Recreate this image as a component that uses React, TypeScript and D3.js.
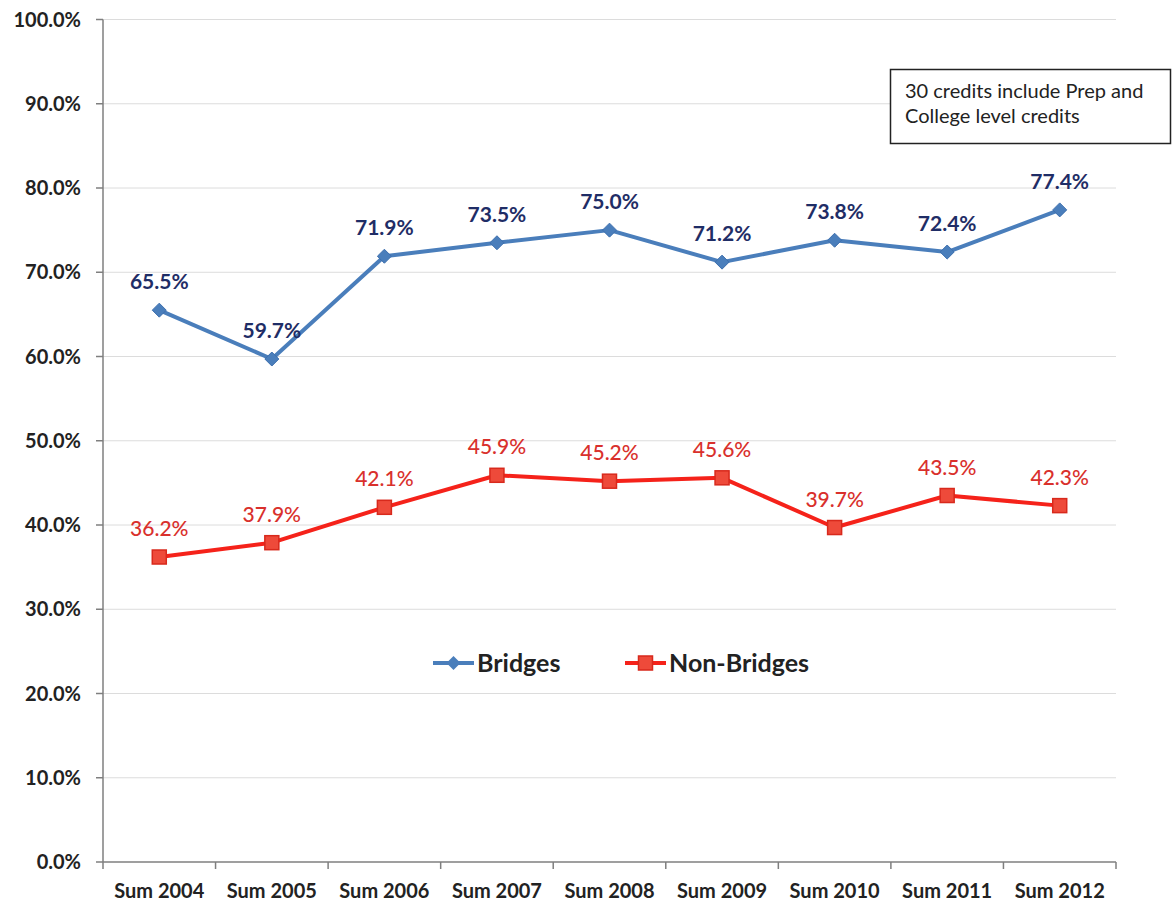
import React from "react";
import * as d3 from "d3";

const categories = ["Sum 2004", "Sum 2005", "Sum 2006", "Sum 2007", "Sum 2008", "Sum 2009", "Sum 2010", "Sum 2011", "Sum 2012"];
const bridges = [65.5, 59.7, 71.9, 73.5, 75.0, 71.2, 73.8, 72.4, 77.4];
const nonBridges = [36.2, 37.9, 42.1, 45.9, 45.2, 45.6, 39.7, 43.5, 42.3];
const yTicks = [0, 10, 20, 30, 40, 50, 60, 70, 80, 90, 100];
const noteLines = ["30 credits include Prep and", "College level credits"];

const W = 1172;
const H = 907;
const FONT = "Lato, 'Open Sans', sans-serif";

export default function App() {
  const x = d3.scaleBand<string>().domain(categories).range([103, 1116]);
  const y = d3.scaleLinear().domain([0, 100]).range([862, 19.5]);
  const cx = (c: string) => (x(c) as number) + x.bandwidth() / 2;
  const line = d3
    .line<number>()
    .x((_, i) => cx(categories[i]))
    .y((d) => y(d));
  const fmt = (v: number) => v.toFixed(1) + "%";
  const blue = "#4a7ebb";
  const red = "#f5221a";
  const diamond = (px: number, py: number, r: number) =>
    `M${px},${py - r}L${px + r},${py}L${px},${py + r}L${px - r},${py}Z`;

  const bounds = categories.map((c) => x(c) as number).concat([x.range()[1]]);

  return (
    <svg width={W} height={H} style={{ position: "absolute", left: 0, top: 0, background: "#fff" }}>
      <rect width={W} height={H} fill="#fff" />
      {/* gridlines */}
      {yTicks.slice(1).map((t) => (
        <line key={"g" + t} x1={103} x2={1116} y1={y(t)} y2={y(t)} stroke="#dcdcdc" strokeWidth={1} />
      ))}
      {/* y axis */}
      <line x1={103} x2={103} y1={y(100)} y2={y(0)} stroke="#7f7f7f" strokeWidth={1.5} />
      {yTicks.map((t) => (
        <g key={"yt" + t}>
          <line x1={96} x2={103} y1={y(t)} y2={y(t)} stroke="#7f7f7f" strokeWidth={1.5} />
          <text x={81} y={y(t) + 7} textAnchor="end" fontFamily={FONT} fontWeight={700} fontSize={20} fill="#222">
            {fmt(t)}
          </text>
        </g>
      ))}
      {/* x axis */}
      <line x1={103} x2={1116} y1={y(0)} y2={y(0)} stroke="#7f7f7f" strokeWidth={1.5} />
      {bounds.map((b, i) => (
        <line key={"xt" + i} x1={b} x2={b} y1={y(0)} y2={y(0) + 7} stroke="#7f7f7f" strokeWidth={1.5} />
      ))}
      {categories.map((c) => (
        <text key={"xl" + c} x={cx(c)} y={898} textAnchor="middle" fontFamily={FONT} fontWeight={700} fontSize={20} fill="#222">
          {c}
        </text>
      ))}
      {/* Bridges */}
      <path d={line(bridges) || ""} fill="none" stroke={blue} strokeWidth={4} strokeLinejoin="round" />
      {bridges.map((v, i) => (
        <path key={"bm" + i} d={diamond(cx(categories[i]), y(v), 7)} fill={blue} stroke="#3d6fae" strokeWidth={1} />
      ))}
      {bridges.map((v, i) => (
        <text key={"bl" + i} x={cx(categories[i])} y={y(v) - 21} textAnchor="middle" fontFamily={FONT} fontWeight={700} fontSize={21} fill="#1f2d66">
          {fmt(v)}
        </text>
      ))}
      {/* Non-Bridges */}
      <path d={line(nonBridges) || ""} fill="none" stroke={red} strokeWidth={4} strokeLinejoin="round" />
      {nonBridges.map((v, i) => (
        <rect key={"nm" + i} x={cx(categories[i]) - 7} y={y(v) - 7} width={14} height={14} fill="#ee4a3a" stroke="#d8291c" strokeWidth={1.5} />
      ))}
      {nonBridges.map((v, i) => (
        <text key={"nl" + i} x={cx(categories[i])} y={y(v) - 21} textAnchor="middle" fontFamily={FONT} fontWeight={500} fontSize={21} fill="#d9302c">
          {fmt(v)}
        </text>
      ))}
      {/* legend */}
      <g>
        <line x1={433} x2={474} y1={663} y2={663} stroke={blue} strokeWidth={4} />
        <path d={diamond(453.5, 663, 7)} fill={blue} />
        <text x={477} y={672} fontFamily={FONT} fontWeight={700} fontSize={25} fill="#222">
          Bridges
        </text>
        <line x1={625} x2={666} y1={663} y2={663} stroke={red} strokeWidth={4} />
        <rect x={638.5} y={656} width={14} height={14} fill="#ee4a3a" stroke="#d8291c" strokeWidth={1.5} />
        <text x={669} y={672} fontFamily={FONT} fontWeight={700} fontSize={25} fill="#222">
          Non-Bridges
        </text>
      </g>
      {/* note box */}
      <rect x={890.5} y={69.5} width={280} height={74} fill="#fff" stroke="#222" strokeWidth={1.5} />
      {noteLines.map((t, i) => (
        <text key={"n" + i} x={905} y={98 + i * 25} fontFamily={FONT} fontSize={20} fill="#222">
          {t}
        </text>
      ))}
    </svg>
  );
}
